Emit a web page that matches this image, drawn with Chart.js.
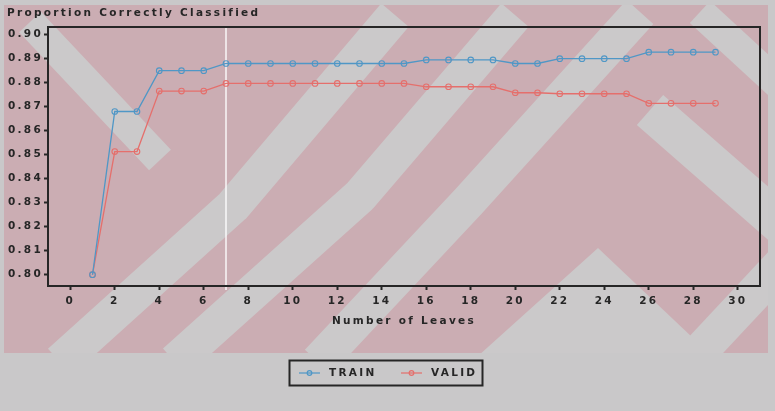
<!DOCTYPE html>
<html>
<head>
<meta charset="utf-8">
<script src="https://cdn.jsdelivr.net/npm/chart.js@4/dist/chart.umd.min.js"></script>
<style>
  html, body { margin: 0; padding: 0; background: #c8c8c8; }
  #wrap { width: 775px; height: 411px; }
</style>
</head>
<body>
<div id="wrap"><canvas id="c" width="775" height="411"></canvas></div>
<script>
// Number of leaves in each subtree
const LEAVES = [1, 2, 3, 4, 5, 6, 7, 8, 9, 10, 11, 12, 13, 14, 15, 16, 17, 18, 19, 20, 21, 22, 23, 24, 25, 26, 27, 28, 29];
// Proportion correctly classified, training data
const TRAIN = [0.800, 0.868, 0.868, 0.885, 0.885, 0.885, 0.888, 0.888, 0.888, 0.888, 0.888, 0.888, 0.888, 0.888, 0.888,
               0.8895, 0.8895, 0.8895, 0.8895, 0.888, 0.888, 0.890, 0.890, 0.890, 0.890, 0.8927, 0.8927, 0.8927, 0.8927];
// Proportion correctly classified, validation data
const VALID = [0.800, 0.8513, 0.8513, 0.8765, 0.8765, 0.8765, 0.8797, 0.8797, 0.8797, 0.8797, 0.8797, 0.8797, 0.8797, 0.8797, 0.8797,
               0.8783, 0.8783, 0.8783, 0.8783, 0.8758, 0.8758, 0.8754, 0.8754, 0.8754, 0.8754, 0.8714, 0.8714, 0.8714, 0.8714];
const SERIES_NAMES = ['TRAIN', 'VALID'];
const X_TICKS = [0, 2, 4, 6, 8, 10, 12, 14, 16, 18, 20, 22, 24, 26, 28, 30];
const Y_TICKS = [0.80, 0.81, 0.82, 0.83, 0.84, 0.85, 0.86, 0.87, 0.88, 0.89, 0.90];
const SELECTED_LEAVES = 7;
const CHART_TITLE = 'Proportion Correctly Classified';
const X_TITLE = 'Number of Leaves';

const INK = '#262626';
const FONT_FAMILY = '"DejaVu Sans", Verdana, sans-serif';
const FONT_SIZE = 10.5;
const SPACING = '2.3px';
const COLORS = ['#4f97c6', '#e56f6c'];

// Pink watermark with light diagonal bands behind the whole figure
const backdrop = {
  id: 'backdrop',
  beforeDraw(chart) {
    const ctx = chart.ctx;
    const light = 'rgb(203,201,202)';
    ctx.save();
    ctx.fillStyle = 'rgb(201,200,201)';
    ctx.fillRect(0, 0, chart.width, chart.height);
    ctx.beginPath();
    ctx.rect(4, 5, 764, 348);
    ctx.clip();
    ctx.fillStyle = 'rgb(203,173,179)';
    ctx.fillRect(0, 0, chart.width, chart.height);
    ctx.strokeStyle = light;
    ctx.lineCap = 'butt';
    ctx.lineJoin = 'round';
    const bands = [
      { w: 30, pts: [[30, 22], [160, 160]] },
      { w: 36, pts: [[60, 362], [233, 206], [395, 15]] },
      { w: 36, pts: [[175, 362], [360, 196], [515, 15]] },
      { w: 36, pts: [[318, 362], [468, 202], [640, 12]] },
      { w: 40, pts: [[650, 110], [785, 228]] },
      { w: 36, pts: [[690, 362], [790, 255]] },
      { w: 30, pts: [[700, 12], [790, 95]] }
    ];
    bands.forEach(b => {
      ctx.lineWidth = b.w;
      ctx.beginPath();
      ctx.moveTo(b.pts[0][0], b.pts[0][1]);
      for (let i = 1; i < b.pts.length; i++) ctx.lineTo(b.pts[i][0], b.pts[i][1]);
      ctx.stroke();
    });
    // light chevron in the lower right
    ctx.fillStyle = light;
    ctx.beginPath();
    ctx.moveTo(478, 356);
    ctx.lineTo(598, 248);
    ctx.lineTo(712, 356);
    ctx.closePath();
    ctx.fill();
    ctx.restore();
    chart.ctx.letterSpacing = SPACING;
  },
  beforeLayout(chart) { chart.ctx.letterSpacing = SPACING; }
};

// Vertical marker at the selected subtree size
const selectedLine = {
  id: 'selectedLine',
  beforeDatasetsDraw(chart) {
    const {ctx, chartArea, scales} = chart;
    const x = scales.x.getPixelForValue(SELECTED_LEAVES);
    ctx.save();
    ctx.strokeStyle = 'rgba(255,255,255,0.9)';
    ctx.lineWidth = 1.5;
    ctx.beginPath();
    ctx.moveTo(x, chartArea.top + 1);
    ctx.lineTo(x, chartArea.bottom + 4);
    ctx.stroke();
    ctx.restore();
  }
};

// Frame, title and boxed legend
const decorations = {
  id: 'decorations',
  afterDraw(chart) {
    const {ctx, chartArea} = chart;
    ctx.save();
    ctx.letterSpacing = SPACING;
    ctx.strokeStyle = INK;
    ctx.lineWidth = 2;
    ctx.strokeRect(chartArea.left, chartArea.top, chartArea.right - chartArea.left, chartArea.bottom - chartArea.top);

    ctx.fillStyle = INK;
    ctx.font = 'bold ' + FONT_SIZE + 'px ' + FONT_FAMILY;
    ctx.textAlign = 'left';
    ctx.textBaseline = 'alphabetic';
    ctx.fillText(CHART_TITLE, 7, 16);

    // legend
    ctx.lineWidth = 2;
    ctx.strokeRect(289.5, 360.5, 193, 25);
    const cy = 373;
    const starts = [299, 401];
    chart.data.datasets.forEach((ds, i) => {
      const x0 = starts[i];
      ctx.strokeStyle = ds.borderColor;
      ctx.lineWidth = 1.2;
      ctx.beginPath();
      ctx.moveTo(x0, cy);
      ctx.lineTo(x0 + 21, cy);
      ctx.stroke();
      ctx.beginPath();
      ctx.arc(x0 + 10.5, cy, 2.3, 0, Math.PI * 2);
      ctx.stroke();
      ctx.fillStyle = INK;
      ctx.textBaseline = 'middle';
      ctx.fillText(ds.label, x0 + 30, cy + 0.5);
    });
    ctx.restore();
  }
};

const tickFont = { family: FONT_FAMILY, size: FONT_SIZE, weight: 'bold', lineHeight: 1.2 };

new Chart(document.getElementById('c'), {
  type: 'line',
  data: {
    datasets: [TRAIN, VALID].map((vals, i) => ({
      label: SERIES_NAMES[i],
      data: LEAVES.map((x, j) => ({ x: x, y: vals[j] })),
      borderColor: COLORS[i],
      backgroundColor: 'transparent',
      borderWidth: 1.3,
      pointRadius: 2.8,
      pointBorderWidth: 1.1,
      pointBackgroundColor: 'transparent',
      pointBorderColor: COLORS[i],
      tension: 0,
      fill: false
    }))
  },
  options: {
    responsive: false,
    devicePixelRatio: 1,
    animation: false,
    layout: { padding: { top: 27, right: 15, bottom: 83, left: 0 } },
    plugins: {
      legend: { display: false },
      tooltip: { enabled: false },
      title: { display: false }
    },
    scales: {
      x: {
        type: 'linear',
        min: -1,
        max: 31,
        afterBuildTicks(scale) { scale.ticks = X_TICKS.map(v => ({ value: v })); },
        afterFit(scale) { scale.height = 42; },
        ticks: {
          font: tickFont, color: INK, padding: 5, maxRotation: 0, autoSkip: false,
          callback: v => String(v)
        },
        grid: { drawOnChartArea: false, drawTicks: true, tickLength: 4, tickColor: INK, tickWidth: 2 },
        border: { display: true, color: INK, width: 2 },
        title: { display: true, text: X_TITLE, color: INK, font: tickFont, padding: { top: 0, bottom: 0 } }
      },
      y: {
        type: 'linear',
        min: 0.7953,
        max: 0.9032,
        afterBuildTicks(scale) { scale.ticks = Y_TICKS.map(v => ({ value: v })); },
        afterFit(scale) { scale.width = 48; },
        ticks: {
          font: tickFont, color: INK, padding: 1,
          callback: v => Number(v).toFixed(2)
        },
        grid: { drawOnChartArea: false, drawTicks: true, tickLength: 4, tickColor: INK, tickWidth: 2 },
        border: { display: true, color: INK, width: 2 }
      }
    }
  },
  plugins: [backdrop, selectedLine, decorations]
});
</script>
</body>
</html>
